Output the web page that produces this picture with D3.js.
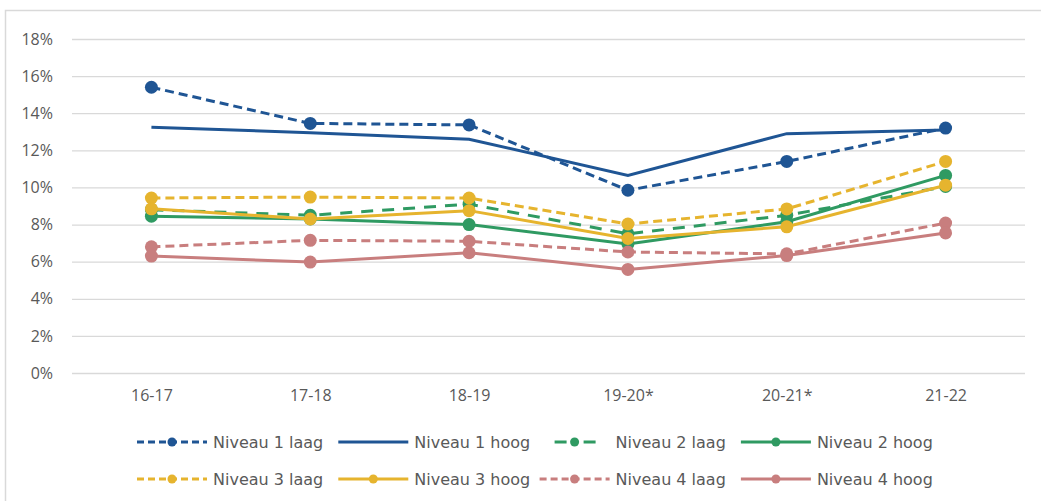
<!DOCTYPE html>
<html>
<head>
<meta charset="utf-8">
<script src="https://cdn.jsdelivr.net/npm/d3@7"></script>
<style>
  body { margin: 0; background: #fff; }
  .axis text { font-family: "Open Sans", sans-serif; font-size: 16px; fill: #595959; }
</style>
</head>
<body>
<div id="chart"></div>
<script>
// categories (school years) and percentages per series
var years = ['16-17', '17-18', '18-19', '19-20*', '20-21*', '21-22'];
var yTicks = [0, 2, 4, 6, 8, 10, 12, 14, 16, 18];

var niveau1Laag = [15.4, 13.45, 13.37, 9.85, 11.4, 13.2];
var niveau1Hoog = [13.25, 12.95, 12.6, 10.65, 12.9, 13.1];
var niveau2Laag = [8.8, 8.5, 9.1, 7.5, 8.5, 10.05];
var niveau2Hoog = [8.45, 8.3, 8.0, 6.95, 8.15, 10.65];
var niveau3Laag = [9.43, 9.48, 9.43, 8.03, 8.84, 11.4];
var niveau3Hoog = [8.85, 8.3, 8.75, 7.25, 7.88, 10.12];
var niveau4Laag = [6.8, 7.15, 7.1, 6.52, 6.42, 8.08];
var niveau4Hoog = [6.3, 5.98, 6.48, 5.58, 6.33, 7.55];

var series = [
  {name: 'Niveau 1 laag', values: niveau1Laag, color: '#1f5594', dash: '9,5', marker: true},
  {name: 'Niveau 1 hoog', values: niveau1Hoog, color: '#1f5594', dash: null, marker: false},
  {name: 'Niveau 2 laag', values: niveau2Laag, color: '#2f9a62', dash: '12,9', marker: true},
  {name: 'Niveau 2 hoog', values: niveau2Hoog, color: '#2f9a62', dash: null, marker: true},
  {name: 'Niveau 3 laag', values: niveau3Laag, color: '#e6b42e', dash: '9,5', marker: true},
  {name: 'Niveau 3 hoog', values: niveau3Hoog, color: '#e6b42e', dash: null, marker: true},
  {name: 'Niveau 4 laag', values: niveau4Laag, color: '#c87e7e', dash: '9,5', marker: true},
  {name: 'Niveau 4 hoog', values: niveau4Hoog, color: '#c87e7e', dash: null, marker: true}
];

var svgWidth = 1041;
var svgHeight = 501;

var margin = {top: 39, right: 16, bottom: 128, left: 72};
var width = svgWidth - margin.left - margin.right;
var height = svgHeight - margin.top - margin.bottom;

var svg = d3.select('#chart')
  .append('svg')
  .attr('width', svgWidth)
  .attr('height', svgHeight);

// outer chart border (only top and left visible in the crop)
svg.append('rect')
  .attr('x', 5.5)
  .attr('y', 10.5)
  .attr('width', svgWidth + 20)
  .attr('height', svgHeight + 20)
  .attr('fill', 'none')
  .attr('stroke', '#d9d9d9')
  .attr('stroke-width', 1.5);

var chartGroup = svg.append('g')
  .attr('transform', `translate(${margin.left}, ${margin.top})`);

var x = d3.scalePoint()
  .domain(years)
  .range([0, width])
  .padding(0.5);

var y = d3.scaleLinear()
  .domain([0, 18])
  .range([height, 0]);

// gridlines + y labels
var leftAxis = d3.axisLeft(y)
  .tickValues(yTicks)
  .tickSize(-width)
  .tickPadding(19)
  .tickFormat(d => d + '%');

var yAxis = chartGroup.append('g')
  .attr('class', 'axis')
  .call(leftAxis);
yAxis.select('.domain').remove();
yAxis.selectAll('.tick line')
  .attr('stroke', '#d9d9d9')
  .attr('stroke-width', 1.3);

var bottomAxis = d3.axisBottom(x)
  .tickSize(0)
  .tickPadding(17);

var xAxis = chartGroup.append('g')
  .attr('class', 'axis')
  .attr('transform', `translate(0, ${height})`)
  .call(bottomAxis);
xAxis.select('.domain').remove();

var line = d3.line()
  .x((d, i) => x(years[i]))
  .y(d => y(d));

var seriesGroup = chartGroup.selectAll('.series')
  .data(series)
  .enter()
  .append('g')
  .attr('class', 'series');

seriesGroup.append('path')
  .attr('d', d => line(d.values))
  .attr('fill', 'none')
  .attr('stroke', d => d.color)
  .attr('stroke-width', 3)
  .attr('stroke-dasharray', d => d.dash);

seriesGroup.filter(d => d.marker)
  .selectAll('circle')
  .data(d => d.values.map(v => ({v: v, color: d.color})))
  .enter()
  .append('circle')
  .attr('cx', (d, i) => x(years[i]))
  .attr('cy', d => y(d.v))
  .attr('r', 6.5)
  .attr('fill', d => d.color);

// legend, 4 items per row
var legend = svg.append('g')
  .attr('transform', 'translate(137, 442)');

var legendItem = legend.selectAll('.legend-item')
  .data(series)
  .enter()
  .append('g')
  .attr('class', 'legend-item')
  .attr('transform', (d, i) => `translate(${(i % 4) * 201.3}, ${Math.floor(i / 4) * 37})`);

legendItem.append('line')
  .attr('x1', 0)
  .attr('x2', 70)
  .attr('y1', 0)
  .attr('y2', 0)
  .attr('stroke', d => d.color)
  .attr('stroke-width', 3)
  .attr('stroke-dasharray', d => d.dash === '12,9' ? '0,15,12,17,12,10' : (d.dash ? '7,4' : null));

legendItem.filter(d => d.marker)
  .append('circle')
  .attr('cx', 35)
  .attr('cy', 0)
  .attr('r', 4.5)
  .attr('fill', d => d.color);

legendItem.append('text')
  .attr('x', 76)
  .attr('y', 0)
  .attr('dy', '0.35em')
  .style('font-family', '"DejaVu Sans", sans-serif')
  .style('font-size', '16px')
  .attr('fill', '#595959')
  .text(d => d.name);
</script>
</body>
</html>
